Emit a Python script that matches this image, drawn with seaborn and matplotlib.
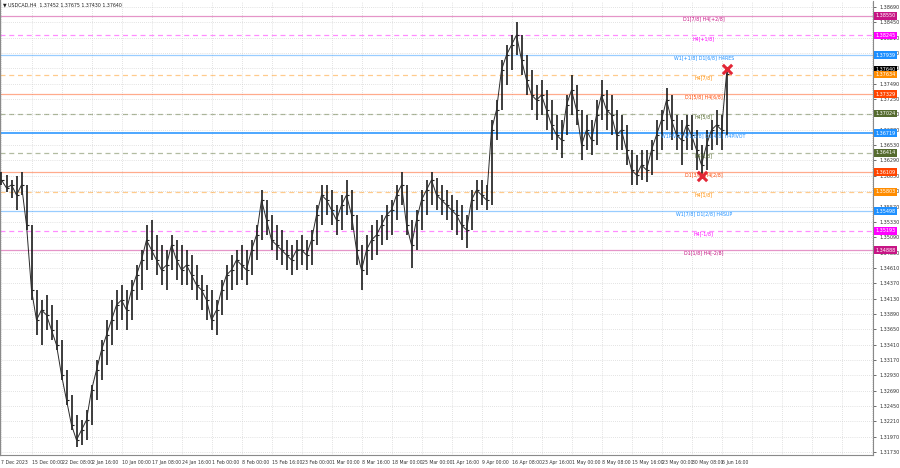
import matplotlib
matplotlib.use("Agg")
import matplotlib.pyplot as plt
import matplotlib.transforms as mtransforms
import pandas as pd
import seaborn as sns

# ------------------------------------------------------------------
# DATA (USDCAD H4, one entry per ~5 chart bars)
# ------------------------------------------------------------------

symbol = "USDCAD,H4"
last_ohlc = [1.37452, 1.37675, 1.37430, 1.37640]

bar_high = [
    1.36110, 1.36063, 1.35985, 1.36047, 1.36110, 1.35907, 1.35281, 1.34264, 1.34108, 1.34186,
    1.34030, 1.33795, 1.33482, 1.33013, 1.32622, 1.32309, 1.32231, 1.32388, 1.32779, 1.33170,
    1.33482, 1.33795, 1.34108, 1.34264, 1.34343, 1.34264, 1.34421, 1.34655, 1.34890, 1.35281,
    1.35359, 1.35125, 1.34968, 1.34890, 1.35125, 1.35046, 1.34968, 1.34890, 1.34812, 1.34655,
    1.34499, 1.34343, 1.34264, 1.34108, 1.34421, 1.34655, 1.34812, 1.34890, 1.34968, 1.34890,
    1.35046, 1.35281, 1.35828, 1.35672, 1.35437, 1.35281, 1.35203, 1.35046, 1.34968, 1.35046,
    1.35125, 1.35046, 1.35203, 1.35594, 1.35907, 1.35907, 1.35828, 1.35594, 1.35750, 1.35985,
    1.35828, 1.35437, 1.34968, 1.35125, 1.35281, 1.35359, 1.35437, 1.35594, 1.35672, 1.35907,
    1.36110, 1.35907, 1.35359, 1.35516, 1.35828, 1.35985, 1.36110, 1.36016, 1.35907, 1.35828,
    1.35750, 1.35672, 1.35594, 1.35437, 1.35828, 1.35985, 1.35985, 1.35907, 1.36923, 1.37236,
    1.37862, 1.38096, 1.38253, 1.38456, 1.38253, 1.37940, 1.37705, 1.37471, 1.37549, 1.37392,
    1.37236, 1.37001, 1.36923, 1.37314, 1.37627, 1.37471, 1.37080, 1.37001, 1.36923, 1.37236,
    1.37549, 1.37392, 1.37314, 1.37080, 1.37001, 1.36845, 1.36454, 1.36376, 1.36454, 1.36454,
    1.36610, 1.36923, 1.37080, 1.37424, 1.37314, 1.37001, 1.36923, 1.37001, 1.37001, 1.36767,
    1.36532, 1.36767, 1.36923, 1.37080, 1.37001, 1.37736,
]

bar_low = [
    1.35907, 1.35797, 1.35703, 1.35516, 1.35750, 1.35203, 1.34108, 1.33561, 1.33404, 1.33639,
    1.33482, 1.33326, 1.32857, 1.32466, 1.32075, 1.31809, 1.31840, 1.31918, 1.32153, 1.32544,
    1.32857, 1.33091, 1.33404, 1.33639, 1.33795, 1.33639, 1.33795, 1.34108, 1.34264, 1.34577,
    1.34734, 1.34499, 1.34343, 1.34264, 1.34577, 1.34421, 1.34343, 1.34343, 1.34264, 1.34108,
    1.33952, 1.33795, 1.33639, 1.33561, 1.33873, 1.34108, 1.34264, 1.34343, 1.34421, 1.34343,
    1.34499, 1.34734, 1.35046, 1.35125, 1.34890, 1.34734, 1.34655, 1.34577, 1.34499, 1.34577,
    1.34655, 1.34577, 1.34655, 1.34968, 1.35281, 1.35437, 1.35281, 1.35125, 1.35203, 1.35437,
    1.35203, 1.34655, 1.34264, 1.34499, 1.34734, 1.34812, 1.34968, 1.35046, 1.35125, 1.35359,
    1.35594, 1.35125, 1.34609, 1.34890, 1.35203, 1.35437, 1.35594, 1.35516, 1.35437, 1.35359,
    1.35203, 1.35125, 1.35046, 1.34921, 1.35203, 1.35516, 1.35594, 1.35516, 1.35594, 1.36610,
    1.37080, 1.37471, 1.37705, 1.37940, 1.37627, 1.37314, 1.37080, 1.36923, 1.37001, 1.36767,
    1.36610, 1.36454, 1.36329, 1.36689, 1.37001, 1.36845, 1.36298, 1.36454, 1.36376, 1.36532,
    1.36923, 1.36767, 1.36689, 1.36454, 1.36454, 1.36219, 1.35907, 1.35907, 1.35985, 1.35954,
    1.36063, 1.36298, 1.36454, 1.36767, 1.36610, 1.36454, 1.36219, 1.36454, 1.36454, 1.36141,
    1.36016, 1.36141, 1.36454, 1.36532, 1.36454, 1.36689,
]

bar_close = [
    1.35985, 1.35860, 1.35907, 1.35750, 1.35907, 1.35281, 1.34264, 1.33795, 1.33952, 1.33873,
    1.33639, 1.33404, 1.32935, 1.32544, 1.32153, 1.31918, 1.32075, 1.32231, 1.32700, 1.33013,
    1.33326, 1.33561, 1.33795, 1.34030, 1.34108, 1.33952, 1.34264, 1.34499, 1.34734, 1.35046,
    1.34890, 1.34734, 1.34577, 1.34655, 1.34968, 1.34734, 1.34577, 1.34655, 1.34499, 1.34343,
    1.34264, 1.34108, 1.33795, 1.33952, 1.34264, 1.34499, 1.34577, 1.34734, 1.34655, 1.34577,
    1.34890, 1.35125, 1.35672, 1.35359, 1.35046, 1.34968, 1.34890, 1.34812, 1.34734, 1.34890,
    1.34890, 1.34812, 1.35046, 1.35437, 1.35750, 1.35672, 1.35516, 1.35359, 1.35594, 1.35750,
    1.35437, 1.34890, 1.34577, 1.34890, 1.35046, 1.35125, 1.35281, 1.35437, 1.35516, 1.35750,
    1.35907, 1.35281, 1.34968, 1.35359, 1.35672, 1.35828, 1.35985, 1.35750, 1.35672, 1.35594,
    1.35516, 1.35437, 1.35281, 1.35203, 1.35672, 1.35828, 1.35750, 1.35672, 1.36767, 1.37080,
    1.37705, 1.37940, 1.38096, 1.38253, 1.37862, 1.37549, 1.37314, 1.37236, 1.37314, 1.37080,
    1.36845, 1.36689, 1.36610, 1.37158, 1.37392, 1.37080, 1.36532, 1.36767, 1.36610, 1.37001,
    1.37314, 1.37080, 1.37001, 1.36689, 1.36767, 1.36454, 1.36141, 1.36063, 1.36219, 1.36141,
    1.36454, 1.36689, 1.36923, 1.37236, 1.36923, 1.36689, 1.36610, 1.36845, 1.36689, 1.36454,
    1.36219, 1.36532, 1.36767, 1.36845, 1.36767, 1.37640,
]

# x axis: bar index of each date label (plus empty future grid slots)
tick_bars = [0, 6, 12, 18, 24, 30, 36, 42, 48, 54, 60, 66, 72, 78, 84,
             90, 96, 102, 108, 114, 120, 126, 132, 138, 144,
             150, 156, 162, 168, 174]
tick_labels = [
    "7 Dec 2023", "15 Dec 00:00", "22 Dec 08:00", "2 Jan 16:00", "10 Jan 00:00",
    "17 Jan 08:00", "24 Jan 16:00", "1 Feb 00:00", "8 Feb 00:00", "15 Feb 16:00",
    "23 Feb 00:00", "1 Mar 00:00", "8 Mar 16:00", "18 Mar 00:00", "25 Mar 00:00",
    "1 Apr 16:00", "9 Apr 00:00", "16 Apr 08:00", "23 Apr 16:00", "1 May 00:00",
    "8 May 08:00", "15 May 16:00", "23 May 00:00", "30 May 08:00", "6 Jun 16:00",
    "", "", "", "", "",
]

price_ticks = [
    1.38690, 1.38450, 1.38210, 1.37970, 1.37730, 1.37490, 1.37250, 1.37010,
    1.36770, 1.36530, 1.36290, 1.36050, 1.35810, 1.35570, 1.35330, 1.35090,
    1.34850, 1.34610, 1.34370, 1.34130, 1.33890, 1.33650, 1.33410, 1.33170,
    1.32930, 1.32690, 1.32450, 1.32210, 1.31970, 1.31730,
]

# Murrey math levels
level_prices = [1.38550, 1.38245, 1.37939, 1.37634, 1.37329, 1.37024, 1.36719,
                1.36414, 1.36109, 1.35803, 1.35498, 1.35193, 1.34888]
level_names = [
    "D1[7/8] H4[+2/8]", "H4[+1/8]", "W1[+1/8] D1[6/8] H4RES", "H4[7/8]",
    "D1[5/8] H4[6/8]", "H4[5/8]", "W1PIVOT W1[8/8] D1[4/8] H4PIVOT", "H4[3/8]",
    "D1[3/8] H4[2/8]", "H4[1/8]", "W1[7/8] D1[2/8] H4SUP", "H4[-1/8]",
    "D1[1/8] H4[-2/8]",
]
level_colors = ["#c71585", "#ff00ff", "#1e90ff", "#ff8c00", "#ff4500", "#556b2f",
                "#1e90ff", "#556b2f", "#ff4500", "#ff8c00", "#1e90ff", "#ff00ff",
                "#c71585"]
level_dashed = [False, True, False, True, False, True, False,
                True, False, True, False, True, False]

signal_bars = [145, 140]
signal_prices = [1.37720, 1.36047]

# ------------------------------------------------------------------
# PLOT
# ------------------------------------------------------------------

sns.set_theme(style="white")
plt.rcParams["font.family"] = ["DejaVu Sans"]

df = pd.DataFrame({
    "bar": range(len(bar_close)),
    "high": bar_high,
    "low": bar_low,
    "close": bar_close,
})

fig = plt.figure(figsize=(9, 4.68), dpi=100)
ax = fig.add_axes([0.0, 13 / 468, 873 / 900, 454 / 468])
ax.set_facecolor("white")

ax.set_xlim(-0.3, 174.3)
ax.set_ylim(1.31684, 1.38784)

# levels
blend = mtransforms.blended_transform_factory(ax.transAxes, ax.transData)
for price, name, color, dashed in zip(level_prices, level_names, level_colors, level_dashed):
    is_pivot = "PIVOT" in name
    ax.axhline(
        price,
        color=color,
        lw=1.3 if is_pivot else 0.9,
        ls=(0, (4, 3)) if dashed else "-",
        alpha=0.85 if is_pivot else 0.45,
        zorder=1,
    )
    ax.text(0.806, price - 0.00008, name, transform=blend, ha="center", va="top",
            fontsize=3.4, color=color, zorder=4)
    ax.text(1.003, price, f"{price:.5f}", transform=blend, ha="left", va="center",
            fontsize=3.5, color="white", zorder=7, clip_on=False,
            bbox=dict(boxstyle="square,pad=0.3", fc=color, ec="none"))

# current price tag
ax.annotate(f"{last_ohlc[3]:.5f}", xy=(1.003, last_ohlc[3]), xycoords=blend,
            xytext=(0, 3), textcoords="offset points", ha="left", va="center",
            fontsize=3.5, color="white", zorder=6, annotation_clip=False,
            bbox=dict(boxstyle="square,pad=0.3", fc="black", ec="none"))

# bars: high-low range plus close ticks, joined by the close path
ax.vlines(df["bar"], df["low"], df["high"], color="#1c1c1c", lw=1.2, zorder=3)
ax.hlines(df["close"], df["bar"], df["bar"] + 0.45, color="#1c1c1c", lw=0.8, zorder=3)
sns.lineplot(data=df, x="bar", y="close", ax=ax, color="#2a2a2a", lw=0.7, zorder=3)

# signals
sns.scatterplot(x=signal_bars, y=signal_prices, ax=ax, marker="x", s=45,
                color="#e32636", linewidth=2.2, zorder=8)

# axes
ax.set_xticks(tick_bars)
ax.set_xticklabels(tick_labels, ha="left", fontsize=3.3)
ax.yaxis.tick_right()
ax.set_yticks(price_ticks)
ax.set_yticklabels([f"{p:.5f}" for p in price_ticks], fontsize=3.5)
ax.tick_params(axis="both", length=2, width=0.5, pad=1.5, colors="#333333")
ax.tick_params(axis="y", pad=3)
ax.set_xlabel("")
ax.set_ylabel("")
ax.grid(True, color="#c8c8c8", lw=0.5, ls=(0, (1, 2)))
ax.set_axisbelow(True)

for side in ["left", "bottom", "right"]:
    ax.spines[side].set_color("#8a8a8a")
    ax.spines[side].set_linewidth(0.8)
ax.spines["left"].set_linewidth(1.6)
ax.spines["top"].set_visible(False)

fig.text(3 / 900, 1 - 5 / 468,
         "\u25bc " + symbol + "  " + " ".join(f"{v:.5f}" for v in last_ohlc),
         fontsize=3.4, va="center", ha="left", color="#222222")

fig.savefig("out.png", dpi=100)
plt.close(fig)
